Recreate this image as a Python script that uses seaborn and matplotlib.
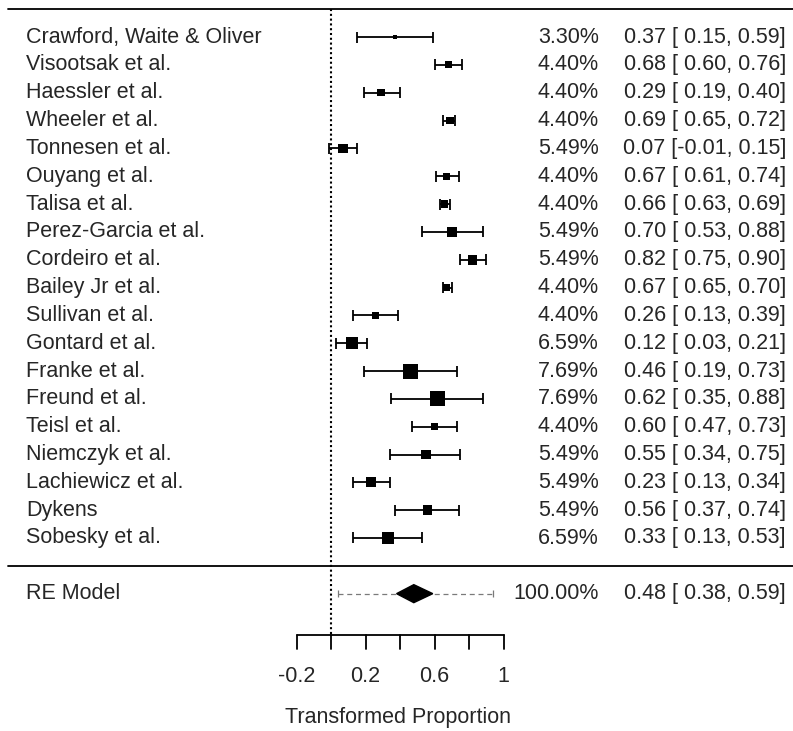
import numpy as np
import pandas as pd
import matplotlib
matplotlib.use("Agg")
import matplotlib.pyplot as plt
import seaborn as sns

# ---------------- data ----------------
studies = ["Crawford, Waite & Oliver", "Visootsak et al.", "Haessler et al.",
           "Wheeler et al.", "Tonnesen et al.", "Ouyang et al.", "Talisa et al.",
           "Perez-Garcia et al.", "Cordeiro et al.", "Bailey Jr et al.",
           "Sullivan et al.", "Gontard et al.", "Franke et al.", "Freund et al.",
           "Teisl et al.", "Niemczyk et al.", "Lachiewicz et al.", "Dykens",
           "Sobesky et al."]
weights = [3.30, 4.40, 4.40, 4.40, 5.49, 4.40, 4.40, 5.49, 5.49, 4.40,
           4.40, 6.59, 7.69, 7.69, 4.40, 5.49, 5.49, 5.49, 6.59]
estimates = [0.37, 0.68, 0.29, 0.69, 0.07, 0.67, 0.66, 0.70, 0.82, 0.67,
             0.26, 0.12, 0.46, 0.62, 0.60, 0.55, 0.23, 0.56, 0.33]
ci_lower = [0.15, 0.60, 0.19, 0.65, -0.01, 0.61, 0.63, 0.53, 0.75, 0.65,
            0.13, 0.03, 0.19, 0.35, 0.47, 0.34, 0.13, 0.37, 0.13]
ci_upper = [0.59, 0.76, 0.40, 0.72, 0.15, 0.74, 0.69, 0.88, 0.90, 0.70,
            0.39, 0.21, 0.73, 0.88, 0.73, 0.75, 0.34, 0.74, 0.53]

re_label = "RE Model"
re_weight = 100.00
re_est, re_lo, re_hi = 0.48, 0.38, 0.59
re_pi_lo, re_pi_hi = 0.04, 0.94

tick_values = [-0.2, 0.0, 0.2, 0.4, 0.6, 0.8, 1.0]
tick_labels = {-0.2: "-0.2", 0.2: "0.2", 0.6: "0.6", 1.0: "1"}
xlabel = "Transformed Proportion"

# ---------------- layout helpers ----------------
W, H = 793, 731
X0, XSCALE = 331.0, 172.5        # pixel of x=0, pixels per unit
Y1, YSTEP = 538.0, 27.83         # pixel of row 1, pixels per row


def px_x(px):
    return (px - X0) / XSCALE


def px_row(py):
    return 1 + (Y1 - py) / YSTEP


k = len(studies)
rows = np.arange(k, 0, -1)

df = pd.DataFrame({"study": studies, "weight": weights, "est": estimates,
                   "lo": ci_lower, "hi": ci_upper, "row": rows})
# square side (pixels) grows linearly with weight
wmin, wmax = min(weights), max(weights)
side_px = 4.5 + (df["weight"] - wmin) / (wmax - wmin) * 10.5
df["s"] = (side_px * 0.72) ** 2

sns.set_theme(style="white")
plt.rcParams["font.family"] = ["Liberation Sans", "DejaVu Sans"]
FS = 15.5

fig = plt.figure(figsize=(W / 100, H / 100), dpi=100)
ax = fig.add_axes([0, 0, 1, 1])
ax.set_xlim(px_x(0), px_x(W))
ax.set_ylim(px_row(H), px_row(0))
ax.axis("off")

lw = 1.3
cap = 5.5 / YSTEP

# horizontal rules
ax.plot([px_x(8), px_x(W)], [k + 1, k + 1], color="black", lw=lw)
ax.plot([px_x(8), px_x(W)], [0, 0], color="black", lw=lw)

# reference line at 0
ax.plot([0, 0], [k + 1, -2.5], color="black", lw=1.5,
        linestyle=(0, (1.0, 1.3)))

# confidence intervals
ax.hlines(df["row"], df["lo"], df["hi"], color="black", lw=lw)
ax.vlines(df["lo"], df["row"] - cap, df["row"] + cap, color="black", lw=lw)
ax.vlines(df["hi"], df["row"] - cap, df["row"] + cap, color="black", lw=lw)

# squares
sns.scatterplot(data=df, x="est", y="row", marker="s", color="black",
                s=df["s"].values, linewidth=0, ax=ax, legend=False, zorder=3)

# RE model: prediction interval and diamond
re_row = -1
pcap = 3.5 / YSTEP
ax.plot([re_pi_lo, re_pi_hi], [re_row, re_row], color="#7a7a7a", lw=0.9,
        linestyle=(0, (4, 3)))
ax.vlines([re_pi_lo, re_pi_hi], re_row - pcap, re_row + pcap,
          color="#7a7a7a", lw=0.9)
h = 9 / YSTEP
ax.fill([re_lo, re_est, re_hi, re_est], [re_row, re_row + h, re_row, re_row - h],
        color="black", zorder=4)

# axis
ax.plot([tick_values[0], tick_values[-1]], [-2.5, -2.5], color="black", lw=lw)
tick_len = 14 / YSTEP
for t in tick_values:
    ax.plot([t, t], [-2.5, -2.5 - tick_len], color="black", lw=lw)
    if t in tick_labels:
        ax.text(t, px_row(676), tick_labels[t], ha="center", va="center",
                fontsize=FS)
ax.text(px_x(398), px_row(717), xlabel, ha="center", va="center", fontsize=FS)

# text columns
xl, xw, xe = px_x(26), px_x(599), px_x(786)
for _, r in df.iterrows():
    ax.text(xl, r["row"], r["study"], ha="left", va="center", fontsize=FS)
    ax.text(xw, r["row"], f"{r['weight']:.2f}%", ha="right", va="center",
            fontsize=FS)
    ax.text(xe, r["row"], f"{r['est']:.2f} [{r['lo']:5.2f}, {r['hi']:.2f}]",
            ha="right", va="center", fontsize=FS)

ax.text(xl, re_row, re_label, ha="left", va="center", fontsize=FS)
ax.text(xw, re_row, f"{re_weight:.2f}%", ha="right", va="center", fontsize=FS)
ax.text(xe, re_row, f"{re_est:.2f} [{re_lo:5.2f}, {re_hi:.2f}]",
        ha="right", va="center", fontsize=FS)

fig.savefig("out.png", dpi=100)
